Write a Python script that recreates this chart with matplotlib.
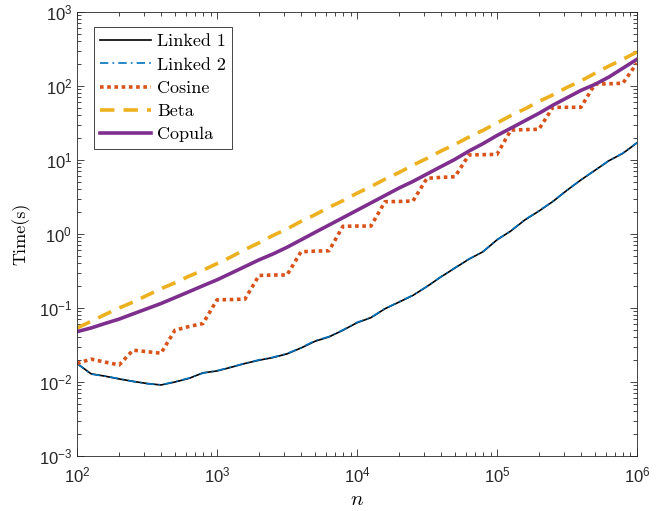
import matplotlib
matplotlib.use('Agg')
import matplotlib.pyplot as plt
from matplotlib import rcParams
from matplotlib.ticker import LogLocator, NullFormatter

rcParams['font.family'] = ['Liberation Sans', 'DejaVu Sans']
rcParams['mathtext.fontset'] = 'cm'
rcParams['axes.unicode_minus'] = False

SERIF = ['cmr10', 'DejaVu Serif']

n = [100, 126, 158, 200, 251, 316, 398, 501, 631, 794,
     1000, 1259, 1585, 1995, 2512, 3162, 3981, 5012, 6310, 7943,
     10000, 12589, 15849, 19953, 25119, 31623, 39811, 50119, 63096, 79433,
     100000, 125893, 158489, 199526, 251189, 316228, 398107, 501187, 630957,
     794328, 1000000]

linked1 = [0.0178, 0.0129, 0.0120, 0.0110, 0.0102, 0.00955, 0.00912, 0.0100, 0.0112, 0.0133,
           0.0141, 0.0158, 0.0178, 0.0197, 0.0214, 0.0240, 0.0288, 0.0355, 0.0407, 0.0501,
           0.0631, 0.0741, 0.0977, 0.120, 0.148, 0.195, 0.263, 0.347, 0.457, 0.575,
           0.832, 1.10, 1.55, 2.04, 2.75, 3.89, 5.37, 7.24, 9.77, 12.3, 17.0]

linked2 = [0.0178, 0.0128, 0.0120, 0.0111, 0.0102, 0.00950, 0.00915, 0.0101, 0.0113, 0.0132,
           0.0142, 0.0159, 0.0179, 0.0199, 0.0216, 0.0242, 0.0290, 0.0362, 0.0410, 0.0505,
           0.0640, 0.0745, 0.0980, 0.121, 0.149, 0.196, 0.265, 0.349, 0.460, 0.578,
           0.835, 1.11, 1.56, 2.06, 2.76, 3.91, 5.40, 7.27, 9.80, 12.4, 17.1]

cosine = [0.0178, 0.0204, 0.0186, 0.0170, 0.0269, 0.0257, 0.0245, 0.0501, 0.0562, 0.0617,
          0.129, 0.130, 0.132, 0.275, 0.279, 0.279, 0.575, 0.586, 0.594, 1.27,
          1.28, 1.28, 2.73, 2.75, 2.79, 5.66, 5.82, 5.94, 11.7, 11.8,
          11.9, 25.4, 25.7, 26.0, 51.5, 51.5, 51.5, 106, 107, 109, 203]

beta = [0.0537, 0.0661, 0.0813, 0.100, 0.120, 0.148, 0.182, 0.219, 0.269, 0.324,
        0.398, 0.490, 0.617, 0.759, 0.955, 1.17, 1.48, 1.82, 2.29, 2.82,
        3.55, 4.37, 5.50, 6.76, 8.51, 10.5, 13.2, 16.2, 20.4, 25.1,
        31.6, 39.8, 49.0, 61.7, 75.9, 95.5, 117, 148, 186, 229, 288]

copula = [0.0479, 0.0537, 0.0617, 0.0708, 0.0832, 0.0977, 0.115, 0.138, 0.166, 0.200,
          0.240, 0.295, 0.363, 0.447, 0.537, 0.661, 0.832, 1.05, 1.32, 1.66,
          2.09, 2.63, 3.31, 4.17, 5.13, 6.46, 8.13, 10.2, 13.2, 16.6,
          21.4, 26.9, 33.9, 42.7, 55.0, 69.2, 87.1, 105, 132, 174, 229]

labels = ['Linked 1', 'Linked 2', 'Cosine', 'Beta', 'Copula']

fig = plt.figure(figsize=(6.6, 5.11), dpi=100)
ax = fig.add_axes([0.1167, 0.1076, 0.8483, 0.869])

ax.plot(n, linked1, color='black', lw=1.2, label=labels[0])
ax.plot(n, linked2, color='#0072BD', lw=1.2, linestyle=(0, (5, 2.5, 1, 2.5)), label=labels[1])
ax.plot(n, cosine, color='#D95319', lw=2.6, linestyle=(0, (1, 1)), label=labels[2])
ax.plot(n, beta, color='#EDB120', lw=2.6, linestyle=(0, (4, 2.5)), label=labels[3])
ax.plot(n, copula, color='#7E2F8E', lw=2.6, label=labels[4])

ax.set_xscale('log')
ax.set_yscale('log')
ax.set_xlim(1e2, 1e6)
ax.set_ylim(1e-3, 1e3)

ax.xaxis.set_major_locator(LogLocator(base=10, numticks=10))
ax.yaxis.set_major_locator(LogLocator(base=10, numticks=10))
ax.xaxis.set_minor_locator(LogLocator(base=10, subs=range(2, 10), numticks=20))
ax.yaxis.set_minor_locator(LogLocator(base=10, subs=range(2, 10), numticks=20))
ax.xaxis.set_minor_formatter(NullFormatter())
ax.yaxis.set_minor_formatter(NullFormatter())

ax.tick_params(which='both', direction='in', top=True, right=True, color='#262626',
               labelsize=12, labelcolor='#262626', width=0.6)
ax.tick_params(which='major', length=5)
ax.tick_params(which='minor', length=3)
ax.tick_params(axis='x', which='major', pad=7)
for s in ax.spines.values():
    s.set_color('#262626')
    s.set_linewidth(0.6)

ax.set_xlabel('$n$', fontsize=15, labelpad=3)
ax.set_ylabel('Time(s)', fontsize=13, family=SERIF, labelpad=6)

leg = ax.legend(loc='upper left', bbox_to_anchor=(0.03, 0.965), prop={'family': SERIF, 'size': 13},
                fancybox=False, edgecolor='#262626', framealpha=1, handlelength=2.8,
                labelspacing=0.42, borderpad=0.35, handletextpad=0.35, borderaxespad=0)
leg.get_frame().set_linewidth(0.6)

fig.savefig('out.png', dpi=100)
